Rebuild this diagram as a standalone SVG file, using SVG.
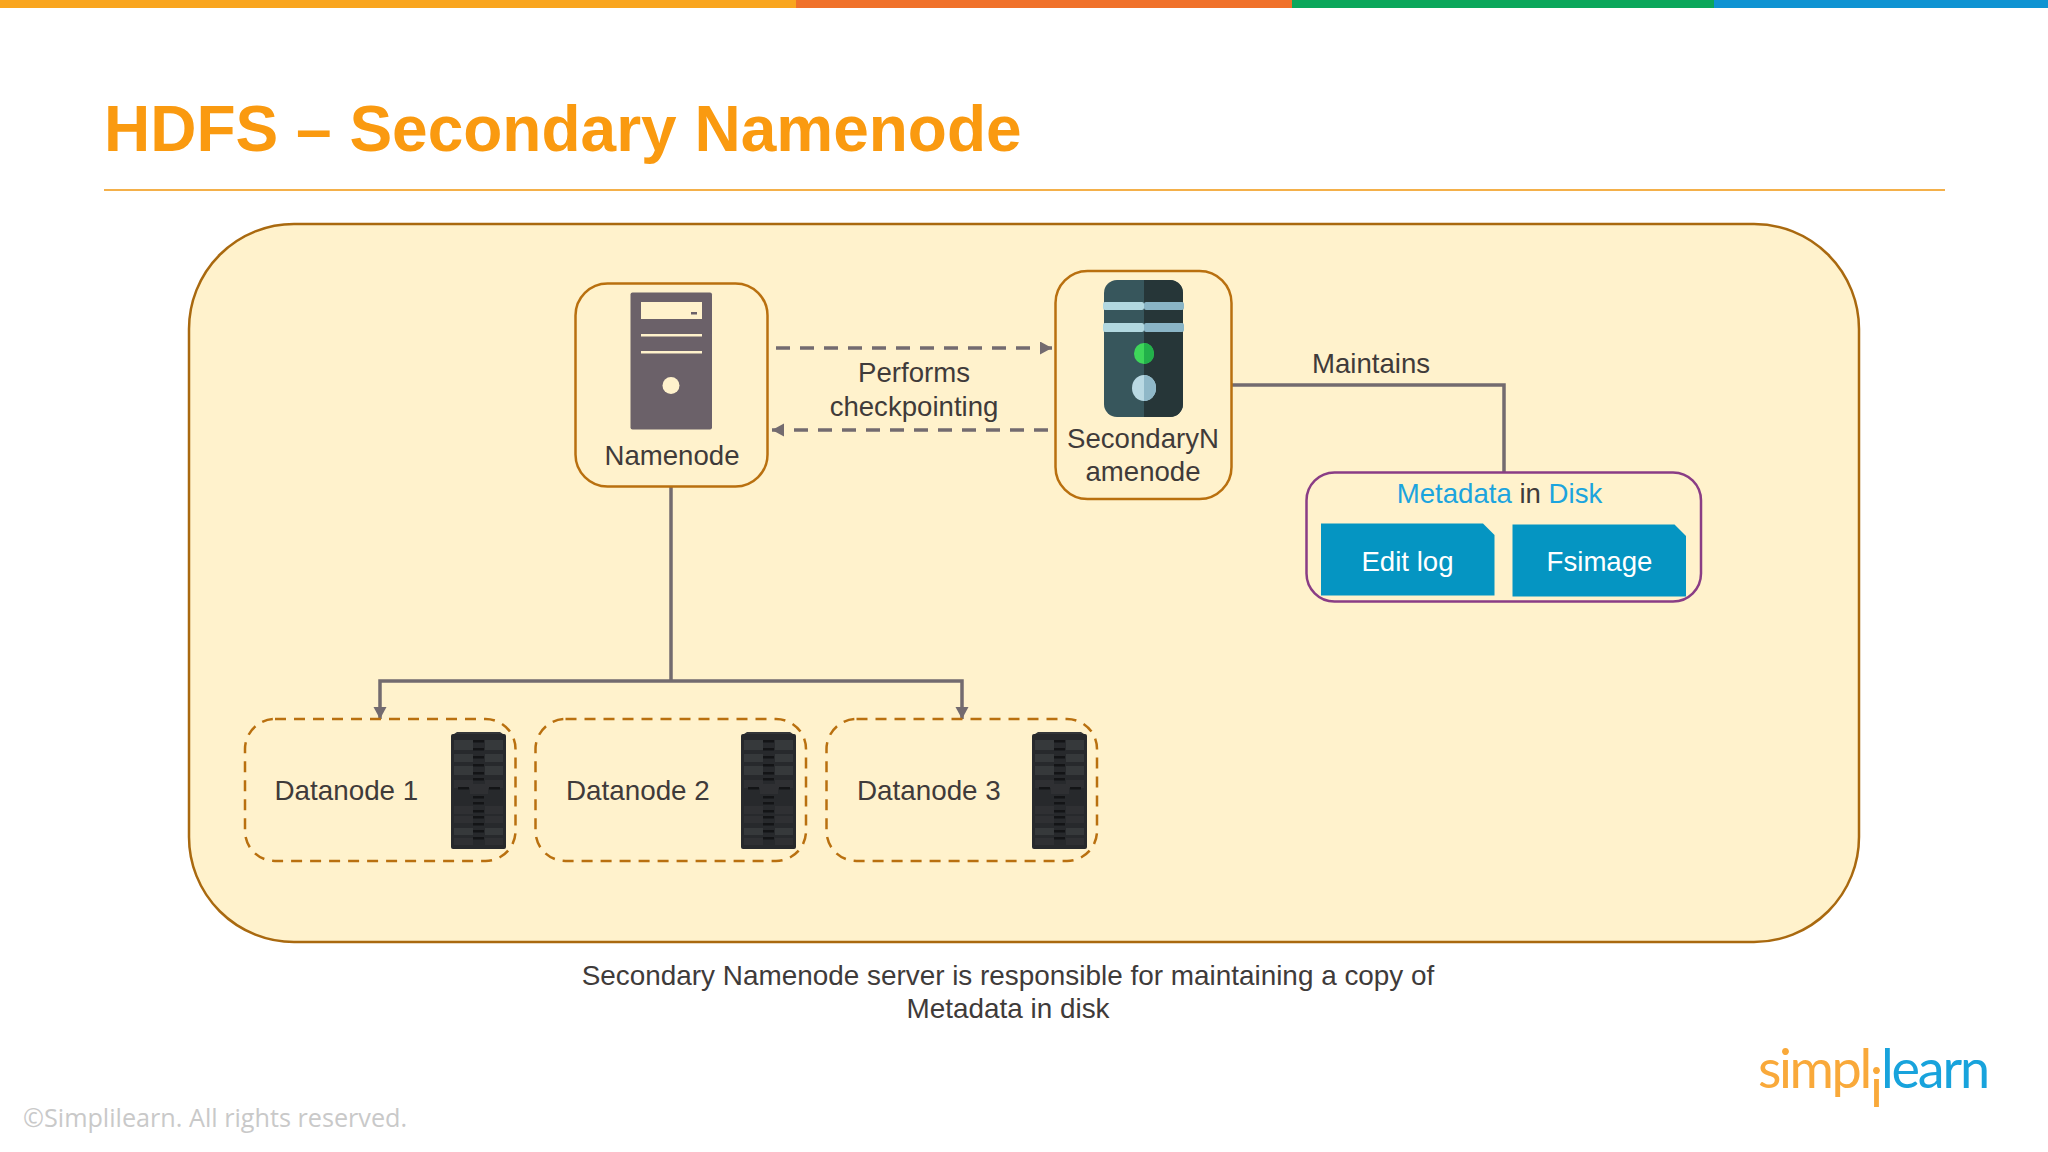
<svg xmlns="http://www.w3.org/2000/svg" xmlns:xlink="http://www.w3.org/1999/xlink" width="2048" height="1152" viewBox="0 0 2048 1152">
<style>
text{font-family:"Liberation Sans",Arial,sans-serif;fill:#3f3b3a;font-size:27.6px}
.c{text-anchor:middle}
.node{fill:#fff2cc;stroke:#b9700f;stroke-width:2.5}
.dn{fill:#fff2cc;stroke:#b9700f;stroke-width:2.5;stroke-dasharray:11 8}
.conn{fill:none;stroke:#736b6f;stroke-width:3.5}
.dash{stroke-dasharray:14 10}
.blue{fill:#1ca4de}
.white{fill:#fff}
.doc{fill:#0595c2}
</style>
<defs>
<marker id="arr" markerUnits="userSpaceOnUse" markerWidth="14" markerHeight="14" refX="12" refY="6.5" orient="auto"><path d="M0 0L12 6.5L0 13Z" fill="#736b6f"/></marker>
<g id="rack">
<rect x="0" y="2" width="55" height="115" rx="2" fill="#27292c"/>
<path d="M3 2L6 0H49L52 2Z" fill="#333538"/>
<g fill="#36393b"><rect x="3" y="8" width="19" height="10"/><rect x="34" y="8" width="18" height="10"/><rect x="3" y="22" width="19" height="8"/><rect x="34" y="22" width="18" height="8"/><rect x="3" y="34" width="19" height="9"/><rect x="34" y="34" width="18" height="9"/><rect x="3" y="96" width="19" height="7"/><rect x="34" y="96" width="18" height="7"/></g>
<g fill="#2f3033"><rect x="3" y="48" width="19" height="8"/><rect x="34" y="48" width="18" height="8"/><rect x="3" y="74" width="19" height="8"/><rect x="34" y="74" width="18" height="8"/><rect x="3" y="84" width="19" height="7"/><rect x="34" y="84" width="18" height="7"/><rect x="3" y="106" width="19" height="7"/><rect x="34" y="106" width="18" height="7"/><rect x="19" y="52" width="18" height="10"/></g>
<g fill="#131416"><rect x="22" y="8" width="11" height="2.500"/><rect x="22" y="16" width="11" height="2.500"/><rect x="22" y="24" width="11" height="2.500"/><rect x="22" y="32" width="11" height="2.500"/><rect x="22" y="40" width="11" height="2.500"/><rect x="22" y="46" width="11" height="2.500"/><rect x="7" y="55" width="11" height="2.500"/><rect x="38" y="55" width="11" height="2.500"/><rect x="22" y="64" width="11" height="2.500"/><rect x="22" y="70" width="11" height="2.500"/><rect x="22" y="78" width="11" height="2.500"/><rect x="22" y="84" width="11" height="2.500"/><rect x="22" y="91" width="11" height="2.500"/><rect x="22" y="98" width="11" height="2.500"/><rect x="22" y="105" width="11" height="2.500"/></g>
</g>
</defs>
<rect width="2048" height="1152" fill="#fff"/>
<g id="top-bar">
<rect x="0" y="0" width="796" height="8" fill="#f9a51e"/>
<rect x="796" y="0" width="496" height="8" fill="#f0712a"/>
<rect x="1292" y="0" width="422" height="8" fill="#0ba75b"/>
<rect x="1714" y="0" width="334" height="8" fill="#0f93d2"/>
</g>
<text id="title" x="104" y="151" style="font-size:64px;font-weight:bold;fill:#fa9a10">HDFS – Secondary Namenode</text>
<rect id="title-rule" x="104" y="189" width="1841" height="2" fill="#f4b04a"/>
<rect id="cluster" x="189" y="224" width="1670" height="718" rx="105" fill="#fff2cc" stroke="#a9690f" stroke-width="2.5"/>
<g id="connectors">
<path class="conn dash" d="M776 348H1052" marker-end="url(#arr)"/>
<path class="conn dash" d="M1048 430H772" marker-end="url(#arr)"/>
<path class="conn" d="M671 487V681"/>
<path class="conn" d="M671 681H380V719" marker-end="url(#arr)"/>
<path class="conn" d="M671 681H962V719" marker-end="url(#arr)"/>
<path class="conn" d="M1232 385H1504V472"/>
</g>
<g id="namenode">
<rect class="node" x="575.5" y="283.5" width="192" height="203" rx="32"/>
<rect x="630.5" y="292.5" width="81.500" height="137" rx="2" fill="#6b6169"/>
<rect x="641" y="302" width="61" height="17" fill="#fff2cc"/>
<rect x="691" y="312" width="6" height="2.500" fill="#6b6169"/>
<rect x="641" y="334" width="61" height="2.500" fill="#fff2cc"/>
<rect x="641" y="351" width="61" height="2.500" fill="#fff2cc"/>
<circle cx="671" cy="385.500" r="8.500" fill="#fff2cc"/>
<text class="c" x="672" y="465">Namenode</text>
</g>
<g id="secondary-namenode">
<rect class="node" x="1055.500" y="271" width="176" height="228" rx="32"/>
<rect x="1104" y="280" width="79" height="137" rx="13" fill="#37565c"/>
<path d="M1144 280H1170a13 13 0 0 1 13 13V404a13 13 0 0 1 -13 13H1144Z" fill="#263638"/>
<rect x="1103" y="302" width="41" height="8" rx="2" fill="#b2d8e0"/><rect x="1144" y="302" width="40" height="8" rx="2" fill="#8ab5c6"/>
<rect x="1103" y="323" width="41" height="9" rx="2" fill="#b2d8e0"/><rect x="1144" y="323" width="40" height="9" rx="2" fill="#8ab5c6"/>
<ellipse cx="1144" cy="353.500" rx="10" ry="10.500" fill="#3ed65a"/>
<path d="M1144 343a10 10.500 0 0 1 0 21Z" fill="#22b04a"/>
<ellipse cx="1144" cy="388" rx="12" ry="13" fill="#b9d9e3"/>
<path d="M1144 375a12 13 0 0 1 0 26Z" fill="#8fb8c8"/>
<text class="c" x="1143" y="448">SecondaryN</text>
<text class="c" x="1143" y="481">amenode</text>
</g>
<g id="labels">
<text class="c" x="914" y="382">Performs</text>
<text class="c" x="914" y="416">checkpointing</text>
<text class="c" x="1371" y="373">Maintains</text>
</g>
<g id="metadata">
<rect x="1306.500" y="472.500" width="394.500" height="129" rx="28" fill="#fff2cc" stroke="#8a3d85" stroke-width="2.500"/>
<text class="c" x="1499.500" y="503"><tspan class="blue">Metadata</tspan> in <tspan class="blue">Disk</tspan></text>
</g>
<g id="edit-log">
<path class="doc" d="M1321 523.500H1483L1494.500 535V595.500H1321Z"/>
<text class="c white" x="1407.500" y="571">Edit log</text>
</g>
<g id="fsimage">
<path class="doc" d="M1512.500 524.500H1674.500L1686 536V596.500H1512.500Z"/>
<text class="c white" x="1599.500" y="571">Fsimage</text>
</g>
<g id="datanode-1">
<rect class="dn" x="245" y="719" width="270.500" height="142" rx="30"/>
<use xlink:href="#rack" href="#rack" x="451" y="732"/>
<text x="274.500" y="800" style="font-size:27.8px">Datanode 1</text>
</g>
<g id="datanode-2">
<rect class="dn" x="535.500" y="719" width="270.500" height="142" rx="30"/>
<use xlink:href="#rack" href="#rack" x="741" y="732"/>
<text x="566" y="800" style="font-size:27.8px">Datanode 2</text>
</g>
<g id="datanode-3">
<rect class="dn" x="826.500" y="719" width="270.500" height="142" rx="30"/>
<use xlink:href="#rack" href="#rack" x="1032" y="732"/>
<text x="857" y="800" style="font-size:27.8px">Datanode 3</text>
</g>
<g id="caption" style="font-size:27.9px">
<text class="c" x="1008" y="985" style="font-size:27.9px">Secondary Namenode server is responsible for maintaining a copy of</text>
<text class="c" x="1008" y="1018" style="font-size:27.9px">Metadata in disk</text>
</g>
<g id="logo">
<text y="1088" style="font-family:Lato,sans-serif;font-size:54px;fill:#f9a93a"><tspan x="1758" letter-spacing="-2.4">simpl</tspan><tspan x="1870" dy="19">i</tspan><tspan x="1881" dy="-19" letter-spacing="-2.2" style="fill:#18a3dc">learn</tspan></text>
</g>
<text id="copyright" x="23" y="1127" style="font-family:'Open Sans',sans-serif;font-size:25.2px;fill:#c9c9c9">©Simplilearn. All rights reserved.</text>
</svg>
